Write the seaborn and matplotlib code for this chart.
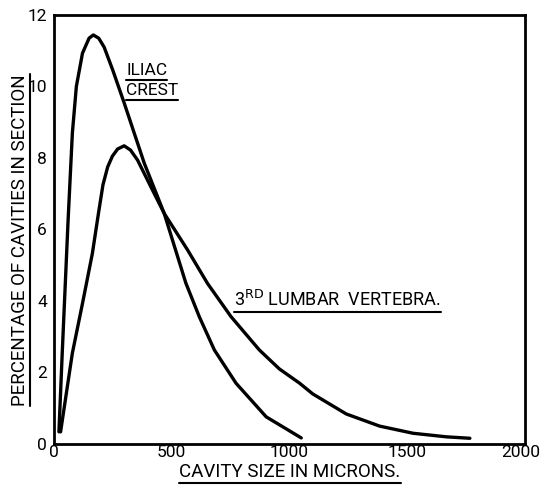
import numpy as np
import pandas as pd
import matplotlib
matplotlib.use("Agg")
import matplotlib.pyplot as plt
import matplotlib.transforms as mtransforms
import seaborn as sns
from matplotlib.lines import Line2D

# cavity size (microns) vs percentage of cavities
iliac_size = [21, 35, 60, 78, 95, 121, 149, 167, 190, 213, 250, 298, 383, 468,
              560, 617, 681, 773, 901, 1050]
iliac_pct = [0.34, 2.54, 6.27, 8.69, 10.0, 10.93, 11.35, 11.44, 11.35, 11.1,
             10.45, 9.54, 7.86, 6.45, 4.5, 3.56, 2.63, 1.70, 0.76, 0.17]

lumbar_size = [28, 78, 121, 163, 190, 208, 228, 248, 270, 298, 325, 355, 426,
               468, 567, 652, 752, 872, 957, 1043, 1099, 1241, 1383, 1525,
               1667, 1766]
lumbar_pct = [0.34, 2.54, 3.93, 5.33, 6.5, 7.25, 7.75, 8.05, 8.25, 8.34, 8.22,
              7.94, 7.0, 6.45, 5.43, 4.49, 3.56, 2.63, 2.1, 1.70, 1.40, 0.84,
              0.5, 0.3, 0.2, 0.16]

x_ticks = [0, 500, 1000, 1500, 2000]
y_ticks = [0, 2, 4, 6, 8, 10, 12]

sns.set_style("white")
plt.rcParams['font.family'] = ['Roboto', 'DejaVu Sans']
plt.rcParams['text.color'] = 'black'
plt.rcParams['xtick.color'] = 'black'
plt.rcParams['ytick.color'] = 'black'

fig = plt.figure(figsize=(5.42, 4.87), dpi=100)
ax = fig.add_axes([0.0996, 0.0883, 0.869, 0.881])

iliac = pd.DataFrame({'size': iliac_size, 'pct': iliac_pct})
lumbar = pd.DataFrame({'size': lumbar_size, 'pct': lumbar_pct})
for df in (iliac, lumbar):
    sns.lineplot(data=df, x='size', y='pct', sort=False, estimator=None,
                 color='black', lw=2.4, ax=ax,
                 solid_joinstyle='round', solid_capstyle='round')

ax.set_xlim(0, 2000)
ax.set_ylim(0, 12)
ax.set_xticks(x_ticks)
ax.set_yticks(y_ticks)
ax.set_xlabel('')
ax.set_ylabel('')
for s in ax.spines.values():
    s.set_color('black')
    s.set_linewidth(2.0)
ax.tick_params(axis='x', direction='in', length=6, width=1.5, labelsize=12.5,
               pad=1, colors='black')
ax.tick_params(axis='y', direction='out', length=4, width=1.5, labelsize=12.5,
               pad=1, colors='black')

# keep the last x label inside the canvas
last = ax.get_xticklabels()[-1]
last.set_transform(last.get_transform() +
                   mtransforms.ScaledTranslation(-4 / 100, 0, fig.dpi_scale_trans))

t1 = ax.text(306, 10.46, 'ILIAC', fontsize=12.5, va='center', ha='left')
t2 = ax.text(306, 9.9, 'CREST', fontsize=12.5, va='center', ha='left')
t3 = ax.text(766, 4.03, '3$^{\\mathrm{RD}}$ LUMBAR  VERTEBRA.', fontsize=13,
             va='center', ha='left')

yl = fig.text(0.036, 0.507, 'PERCENTAGE OF CAVITIES IN SECTION',
              rotation=90, fontsize=13.5, ha='center', va='center')
xl = fig.text(0.535, 0.031, 'CAVITY SIZE IN MICRONS.', fontsize=13.5,
              ha='center', va='center')

fig.canvas.draw()
W, H = fig.bbox.width, fig.bbox.height


def underline(t, gap=2, vertical=False):
    bb = t.get_window_extent()
    if vertical:
        x = (bb.x1 + gap) / W
        fig.add_artist(Line2D([x, x], [bb.y0 / H, bb.y1 / H], color='black',
                              lw=1.5, transform=fig.transFigure))
    else:
        y = (bb.y0 - gap) / H
        fig.add_artist(Line2D([bb.x0 / W, bb.x1 / W], [y, y], color='black',
                              lw=1.5, transform=fig.transFigure))


for t in (t1, t2, t3, xl):
    underline(t)
underline(yl, gap=1, vertical=True)

fig.savefig('out.png', dpi=100)
